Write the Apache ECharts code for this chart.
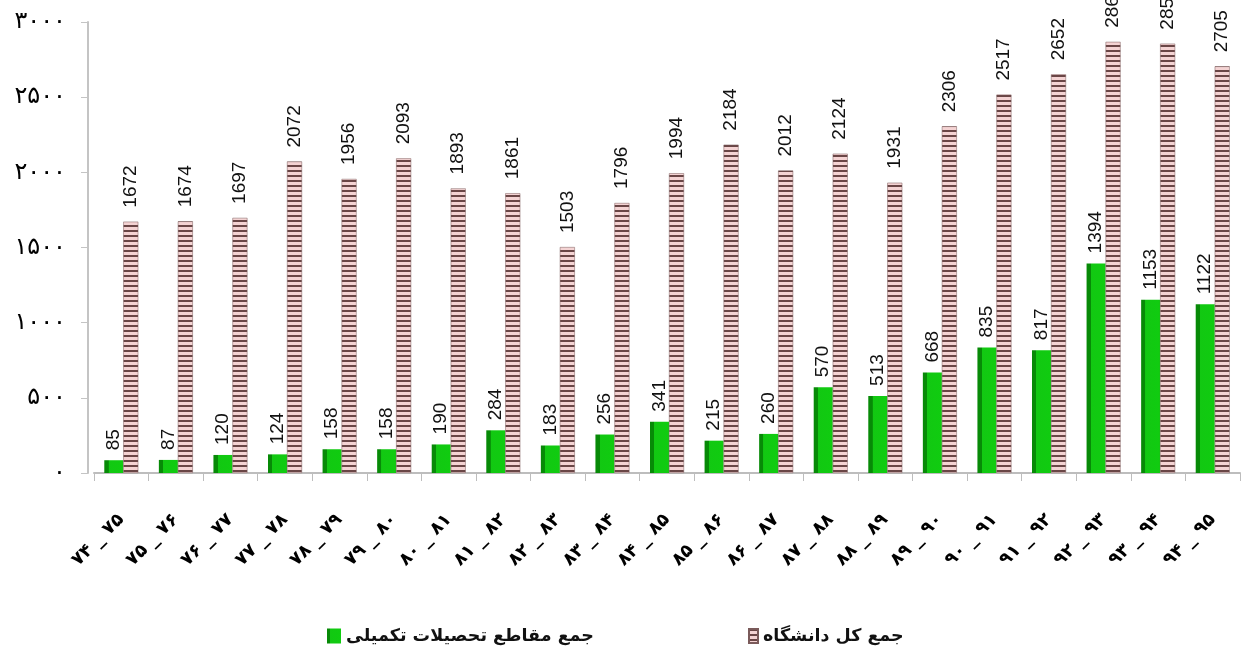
<!DOCTYPE html>
<html>
<head>
<meta charset="utf-8">
<script src="https://cdn.jsdelivr.net/npm/echarts@6/dist/echarts.min.js"></script>
<style>
  html, body { margin: 0; padding: 0; background: #fff; }
  #main { width: 1254px; height: 647px; }
</style>
</head>
<body>
<div id="main"></div>
<script>
var categories = ['۷۴ _ ۷۵', '۷۵ _ ۷۶', '۷۶ _ ۷۷', '۷۷ _ ۷۸', '۷۸ _ ۷۹', '۷۹ _ ۸۰', '۸۰ _ ۸۱',
    '۸۱ _ ۸۲', '۸۲ _ ۸۳', '۸۳ _ ۸۴', '۸۴ _ ۸۵', '۸۵ _ ۸۶', '۸۶ _ ۸۷', '۸۷ _ ۸۸',
    '۸۸ _ ۸۹', '۸۹ _ ۹۰', '۹۰ _ ۹۱', '۹۱ _ ۹۲', '۹۲ _ ۹۳', '۹۳ _ ۹۴', '۹۴ _ ۹۵']
var graduate = [85, 87, 120, 124, 158, 158, 190, 284, 183, 256, 341, 215, 260, 570, 513, 668, 835, 817, 1394, 1153, 1122]
var university = [1672, 1674, 1697, 2072, 1956, 2093, 1893, 1861, 1503, 1796, 1994, 2184, 2012, 2124, 1931, 2306, 2517, 2652, 2868, 2856, 2705]
var yTicks = ['۰', '۵۰۰', '۱۰۰۰', '۱۵۰۰', '۲۰۰۰', '۲۵۰۰', '۳۰۰۰']

var nameGrad = 'جمع مقاطع تحصیلات تکمیلی'
var nameUni = 'جمع کل دانشگاه'

// striped fill for the university bars
var stripe = document.createElement('canvas')
stripe.width = 4
stripe.height = 5
var ctx = stripe.getContext('2d')
ctx.fillStyle = '#f4d3d3'
ctx.fillRect(0, 0, 4, 5)
ctx.fillStyle = '#6a4646'
ctx.fillRect(0, 0, 4, 2)

var labelFont = '"Liberation Sans Narrow", "Liberation Sans", sans-serif'
var legendText = {fontFamily: 'DejaVu Sans', fontWeight: 'bold', fontSize: 17.5, color: '#111'}

var chart = echarts.init(document.getElementById('main'))
chart.setOption({
    animation: false,
    backgroundColor: '#fff',
    grid: {
        left: 94,
        right: 14,
        top: 22,
        bottom: 174
    },
    legend: [{
        data: [{name: nameGrad, icon: 'rect'}],
        left: 322,
        top: 622,
        itemWidth: 14,
        itemHeight: 15,
        itemGap: 6,
        textStyle: legendText
    }, {
        data: [{name: nameUni, icon: 'rect'}],
        left: 743,
        top: 622,
        itemWidth: 9,
        itemHeight: 14,
        textStyle: legendText
    }],
    xAxis: {
        type: 'category',
        data: categories,
        axisLine: {lineStyle: {color: '#bdbdbd', width: 2}},
        axisTick: {show: true, length: 8, lineStyle: {color: '#bdbdbd'}},
        axisLabel: {
            rotate: 45,
            margin: 44,
            fontFamily: 'DejaVu Sans',
            fontWeight: 'bold',
            fontSize: 18,
            color: '#000'
        }
    },
    yAxis: {
        type: 'value',
        min: 0,
        max: 3000,
        interval: 500,
        offset: 6,
        axisLine: {show: true, lineStyle: {color: '#c4c4c4', width: 2}},
        axisTick: {show: true, length: 7, lineStyle: {color: '#c4c4c4'}},
        splitLine: {show: false},
        axisLabel: {
            margin: 22,
            fontFamily: 'DejaVu Sans',
            fontSize: 24,
            color: '#000',
            formatter: function(v) { return yTicks[v / 500] }
        }
    },
    series: [{
        name: nameGrad,
        type: 'bar',
        data: graduate,
        barWidth: 19,
        barGap: '0%',
        itemStyle: {
            color: new echarts.graphic.LinearGradient(0, 0, 1, 0, [
                {offset: 0, color: '#078a07'},
                {offset: 0.22, color: '#078a07'},
                {offset: 0.23, color: '#12c812'},
                {offset: 1, color: '#10cc10'}
            ])
        },
        label: {
            show: true,
            position: 'top',
            rotate: 90,
            align: 'left',
            verticalAlign: 'middle',
            distance: 10,
            fontFamily: labelFont,
            fontSize: 19,
            color: '#111'
        }
    }, {
        name: nameUni,
        type: 'bar',
        data: university,
        barWidth: 15,
        itemStyle: {
            color: {image: stripe, repeat: 'repeat'},
            borderColor: '#7a5a5a',
            borderWidth: 0.5
        },
        label: {
            show: true,
            position: 'top',
            rotate: 90,
            align: 'left',
            verticalAlign: 'middle',
            distance: 14,
            fontFamily: labelFont,
            fontSize: 19,
            color: '#111'
        }
    }]
})
</script>
</body>
</html>
